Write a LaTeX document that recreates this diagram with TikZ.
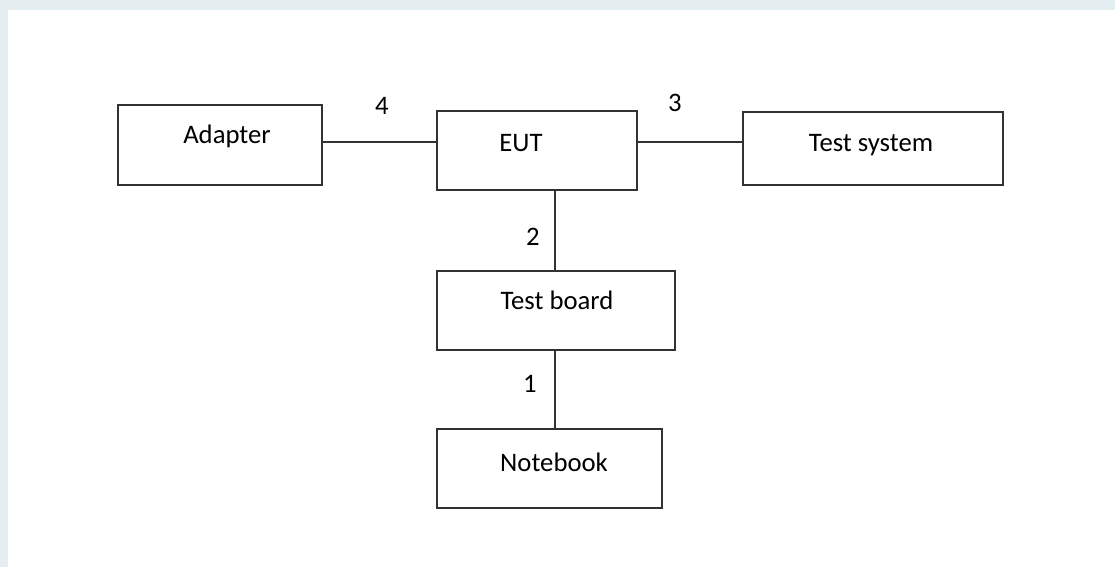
\documentclass[tikz,border=0pt]{standalone}
\usepackage{fontspec}
\setmainfont{Carlito}
\usetikzlibrary{fit}
\definecolor{bgblue}{RGB}{228,238,240}
\definecolor{linegray}{RGB}{50,50,50}
\begin{document}
\begin{tikzpicture}[x=0.5pt,y=-0.5pt,
  box/.style={draw=linegray,line width=1pt,inner sep=0pt,rectangle},
  txt/.style={anchor=base,inner sep=0pt,font=\fontsize{13.35pt}{16pt}\selectfont},
  conn/.style={draw=linegray,line width=0.8pt}]
\useasboundingbox (0,0) rectangle (1115,567);
\fill[bgblue] (0,0) rectangle (1115,567);
\fill[white] (8,10) rectangle (1115,567);
% boxes
\node[box,fit={(118,105) (322,185)}] (adapter) {};
\node[box,fit={(437,111) (637,190)}] (eut) {};
\node[box,fit={(743,112) (1003,185)}] (testsys) {};
\node[box,fit={(437,271) (675,350)}] (board) {};
\node[box,fit={(437,429) (662,508)}] (notebook) {};
% texts
\node[txt] (tadapter) at (227,144) {Adapter};
\node[txt] (teut) at (521,152) {EUT};
\node[txt] (ttestsys) at (871,152) {Test system};
\node[txt] (tboard) at (557,309) {Test board};
\node[txt] (tnotebook) at (554,471) {Notebook};
% labels
\node[txt] (l4) at (382,115) {4};
\node[txt] (l3) at (675,112) {3};
\node[txt] (l2) at (533,245) {2};
\node[txt] (l1) at (530,392) {1};
% connectors
\coordinate (h) at (0,142);
\coordinate (v) at (555,0);
\draw[conn] (adapter.east|-h) -- (eut.west|-h);
\draw[conn] (eut.east|-h) -- (testsys.west|-h);
\draw[conn] (eut.south-|v) -- (board.north-|v);
\draw[conn] (board.south-|v) -- (notebook.north-|v);
\end{tikzpicture}
\end{document}
